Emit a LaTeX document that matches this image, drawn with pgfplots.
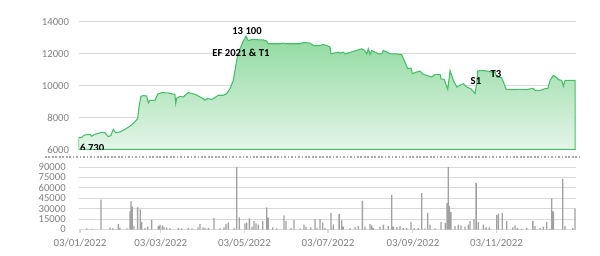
\documentclass[border=0pt]{standalone}
\usepackage{pgfplots}
\pgfplotsset{compat=1.18}
\usepackage{fontspec}
\setmainfont{Carlito}
\definecolor{lineG}{RGB}{70,190,105}
\definecolor{fillTop}{RGB}{145,218,160}
\definecolor{fillBot}{RGB}{228,245,232}
\definecolor{gridC}{RGB}{217,217,217}
\definecolor{tickC}{RGB}{128,128,128}
\definecolor{barC}{RGB}{160,160,160}
\begin{document}
\begin{tikzpicture}
\useasboundingbox (0,0) rectangle (450pt,191.25pt);
% price panel
\begin{axis}[at={(58.95pt,79.125pt)}, anchor=south west, scale only axis,
  width=373.05pt, height=95.85pt,
  xmin=-1, xmax=362, ymin=6000, ymax=14000,
  axis line style={draw=none},
  xtick=\empty, ytick={6000,8000,...,14000},
  ymajorgrids, grid style={gridC, line width=0.6pt},
  major tick length=0pt,
  yticklabel style={font=\fontsize{8pt}{9pt}\selectfont, color=tickC, inner sep=0pt, xshift=-7pt},
  scaled y ticks=false,
  /pgf/number format/.cd, 1000 sep={}, assume math mode=true,
  ]
\addplot[draw=lineG, line width=0.8pt, top color=fillTop, bottom color=fillBot] coordinates {
(-1,6730)(1.2,6760)(3.1,6900)(7.3,6950)(8.5,6830)(10.9,6950)(15.8,7070)(18.2,7050)
(20.7,6800)(22.6,6880)(24.3,7260)(26.1,7050)(29.2,7100)(32.8,7260)(36.5,7460)(40.1,7730)
(42.1,7940)(43.1,8670)(44.5,9330)(46.2,9370)(48.7,9350)(49.9,8920)(51.1,9080)(54.7,9080)
(56.7,9460)(59.6,9560)(64.5,9540)(67.2,9480)(69.3,9460)(69.9,8880)(70.6,9210)(73,9330)
(75.4,9290)(79,9560)(83.9,9460)(87.6,9290)(90,9180)(91.2,9080)(93.2,9200)(96.1,9130)
(98.5,9250)(101,9395)(104.6,9395)(107.1,9500)(109.5,9810)(111.9,10330)(113.1,10950)
(114.8,11780)(116.8,12300)(118.8,12720)(121.2,13100)(122.8,12820)(125.3,12880)(127.7,12880)
(131.4,12860)(133.8,12860)(136.2,12780)(137.4,12620)(141.1,12620)(146,12620)(148.4,12660)
(150.9,12620)(155.7,12620)(160.6,12620)(163,12700)(167.9,12660)(170.3,12510)(175.2,12510)
(177.6,12570)(180.1,12510)(182.5,12410)(183.2,11990)(186.1,12050)(188.5,12090)(189.8,12030)
(192.2,12090)(193.4,11990)(195.9,12050)(199.5,12140)(203.1,12240)(205.6,12300)(207.5,12200)
(209.3,11990)(210.4,12300)(211.7,11950)(212.9,12200)(215.3,12090)(217.7,11990)(220.2,11990)
(221.4,12200)(223.9,12100)(226.3,11990)(230.7,11990)(234.8,11930)(237.2,11470)(239.2,11060)
(241.6,11100)(242.6,10750)(245.8,10850)(248.2,10910)(250.6,10700)(254.3,10600)(256.7,10535)
(259.1,10700)(262.8,10700)(263.5,10430)(265.9,10370)(268.4,9770)(270.1,10950)(272.5,10330)
(275,9910)(277.4,10020)(279.8,10120)(282.3,9910)(285.2,9810)(288.3,9500)(289.6,10160)
(290.3,10910)(293.2,10950)(296.9,10910)(300.5,10850)(302.9,10850)(304.2,10535)(307.8,10490)
(309.5,10120)(311,9770)(316.3,9750)(321.2,9770)(326.1,9750)(330.5,9830)(332.1,9700)
(335.8,9700)(339.4,9810)(341.4,9810)(343.1,10330)(345.5,10640)(347.4,10540)(349.1,10370)
(351.6,10330)(352.8,9960)(354,10330)(361.3,10330)
} \closedcycle;
\node[font=\fontsize{8pt}{9pt}\selectfont\bfseries, anchor=west, inner sep=0pt] at (axis cs:0,6130) {6 730};
\node[font=\fontsize{8pt}{9pt}\selectfont\bfseries, inner sep=0pt] at (axis cs:121.9,13420) {13 100};
\node[font=\fontsize{8pt}{9pt}\selectfont\bfseries, inner sep=0pt] at (axis cs:117.5,12030) {EF 2021 \& T1};
\node[font=\fontsize{8pt}{9pt}\selectfont\bfseries, inner sep=0pt] at (axis cs:289,10290) {S1};
\node[font=\fontsize{8pt}{9pt}\selectfont\bfseries, inner sep=0pt] at (axis cs:303.6,10700) {T3};
\end{axis}
\draw[tickC!70, line width=0.8pt, dash pattern=on 1.3pt off 1.3pt] (33.75pt,73.5pt) -- (435pt,73.5pt);
% volume panel
\begin{axis}[at={(58.95pt,19.125pt)}, anchor=south west, scale only axis,
  width=373.05pt, height=46.875pt,
  xmin=-1, xmax=362, ymin=0, ymax=90000,
  axis x line*=bottom, axis y line*=left,
  x axis line style={draw=gridC, line width=0.8pt, -},
  y axis line style={draw=none},
  xtick={0,59,120,181,243,304},
  xticklabels={03/01/2022,03/03/2022,03/05/2022,03/07/2022,03/09/2022,03/11/2022},
  xtick style={draw=gridC, line width=0.8pt},
  tick align=outside, major tick length=2.5pt,
  ytick={0,15000,...,90000},
  ymajorgrids, grid style={gridC, line width=0.6pt},
  ytick style={draw=none},
  yticklabel style={font=\fontsize{8pt}{9pt}\selectfont, color=tickC, inner sep=0pt, xshift=-7pt},
  xticklabel style={font=\fontsize{8.2pt}{9pt}\selectfont, color=tickC, yshift=-1pt},
  scaled y ticks=false,
  ybar, bar width=1pt,
  /pgf/number format/.cd, 1000 sep={}, assume math mode=true,
  ]
\addplot[fill=barC, draw=none] coordinates {
(5,1500)(8.8,1000)(15.3,43000)(21.9,3000)(24,1500)(28,8000)(29.2,2000)(34.3,1500)
(36.5,26000)(37.2,41000)(38.2,33000)(39.4,5000)(42.1,32000)(44,29000)(45,11000)(47.4,2000)
(49.4,4000)(52.3,14000)(57.2,5000)(58.4,7000)(60.1,6000)(61.3,4000)(63.3,3000)(65.7,2000)
(71.8,2000)(74.2,1500)(79,2000)(81.8,1500)(86.1,3000)(87.6,8000)(89.8,3000)(91.2,2500)
(93.7,2000)(97.8,16500)(102.2,1500)(105.1,3000)(106.6,8000)(108.2,10000)(112.4,2000)
(114.4,94000)(116.3,17500)(120.4,9000)(121.7,10000)(123.6,16000)(125.5,4000)(127,12000)
(128.5,9000)(130.1,7000)(133.4,12000)(136.3,32000)(137.4,17000)(140.7,3000)(143.6,1500)
(148.9,20500)(150.4,12000)(154,2000)(156.2,14000)(160.6,1500)(163.5,7000)(165,4000)
(168.4,3000)(171.5,15000)(173,2000)(175.2,15000)(177.2,10000)(178.8,2000)(183.2,23700)
(184.9,7000)(189.1,22000)(191,13000)(192.2,4000)(197.1,2000)(200.7,3500)(203.1,5000)
(206.1,41500)(208,4000)(211.7,8000)(212.9,6000)(214.1,2000)(219,4000)(221.4,7000)
(225,5000)(227.5,50000)(228.7,4000)(231.2,3500)(233.6,5000)(236,2000)(238.5,2500)
(241.6,11000)(244,2000)(246.9,2000)(249.4,52500)(251.8,1500)(253.8,24000)(255.5,7000)
(259.1,1500)(263.5,11000)(266.6,10000)(267.9,38000)(268.8,93000)(269.6,34000)(270.8,25000)
(273.7,5000)(276.1,7000)(278.1,6000)(281,4000)(283.4,7000)(284.7,12000)(287.6,15000)
(289.1,67000)(290.7,11000)(294.4,7000)(296.4,3000)(298.8,3000)(304.2,21000)(305.4,23000)
(308.2,24000)(311.5,12000)(315.8,3000)(317.5,6000)(319.2,2000)(322.4,1000)(326.1,2000)
(330.5,12000)(332.1,5000)(335.8,2000)(338.2,4000)(340.7,11000)(343.1,1000)(344.3,45000)
(345.5,26000)(352.3,73000)(354,5000)(359.6,2000)(361.3,30000)
};
\end{axis}
\end{tikzpicture}
\end{document}
